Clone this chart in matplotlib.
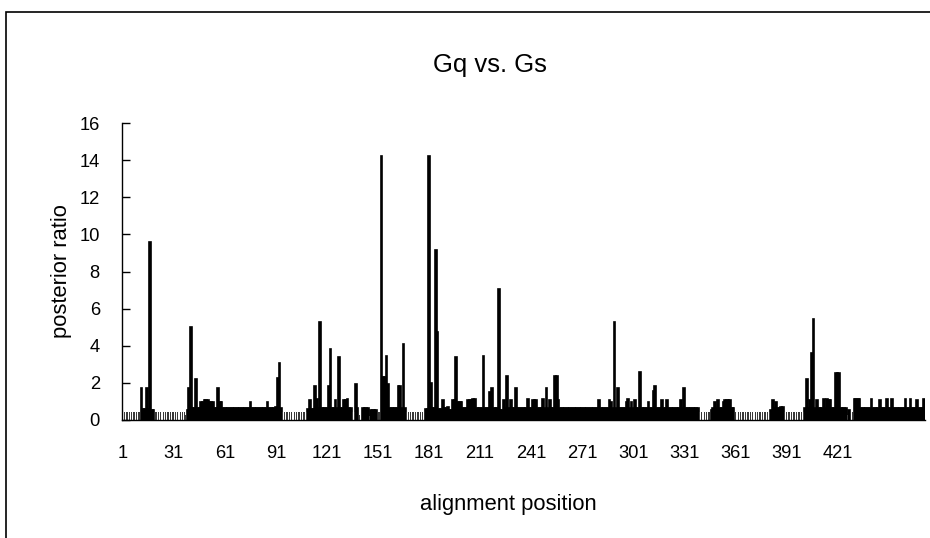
import numpy as np
import matplotlib.pyplot as plt
from matplotlib.patches import Rectangle
from matplotlib import font_manager

run_values = [0.45, 1.74, 0.6, 1.74, 0.6, 9.6, 0.54, 0.45, 0.27, 0.54,
              1.74, 5.0, 0.63, 2.19, 0.63, 0.95, 1.06, 0.95, 0.63, 1.74,
              0.95, 0.63, 0.95, 0.63, 0.95, 0.63, 0.72, 2.24, 3.05, 0.63,
              0.45, 0.6, 1.06, 0.6, 1.83, 1.15, 0.63, 5.27, 0.63, 1.83,
              3.8, 0.63, 1.06, 0.63, 3.4, 0.63, 1.06, 1.15, 0.63, 0.45,
              1.93, 0.63, 0.27, 0.63, 0.2, 0.54, 0.45, 14.2, 2.33, 3.46,
              1.93, 0.63, 1.83, 0.63, 4.07, 0.63, 0.45, 0.6, 14.2, 2.0,
              0.63, 9.14, 4.75, 0.6, 1.06, 0.63, 0.72, 0.54, 1.06, 3.4,
              0.98, 0.63, 1.06, 1.15, 0.63, 3.46, 0.63, 1.5, 1.74, 0.63,
              7.06, 0.54, 1.06, 0.63, 2.37, 0.63, 1.06, 0.63, 1.74, 0.63,
              1.15, 0.63, 1.06, 0.63, 1.15, 0.63, 1.74, 0.63, 1.06, 0.63,
              2.37, 1.06, 0.63, 1.06, 0.63, 1.06, 0.95, 0.63, 5.27, 0.63,
              1.74, 0.63, 0.95, 1.15, 0.63, 0.95, 0.63, 1.06, 0.63, 2.6,
              0.63, 0.95, 0.63, 1.58, 1.83, 0.63, 1.06, 0.63, 1.06, 0.63,
              1.06, 0.63, 1.74, 0.63, 0.45, 0.54, 0.63, 0.95, 0.63, 1.06,
              0.63, 0.95, 1.06, 0.63, 0.45, 0.54, 1.06, 0.63, 0.95, 0.63,
              0.72, 0.45, 0.63, 2.19, 0.63, 1.06, 3.62, 5.45, 0.63, 1.06,
              0.63, 1.15, 0.63, 1.15, 1.06, 0.63, 2.51, 0.63, 0.27, 0.54,
              0.45, 1.15, 0.63, 1.15, 0.63, 1.06, 0.63, 1.15, 0.63, 1.15,
              0.63, 1.15, 0.63, 1.15, 0.63, 1.06, 0.63, 1.15]
run_counts = [11, 1, 2, 1, 1, 1, 2, 18, 1, 1,
              1, 1, 2, 1, 2, 2, 3, 3, 2, 1,
              2, 16, 1, 9, 1, 4, 1, 1, 1, 1,
              15, 1, 1, 2, 1, 1, 1, 1, 4, 1,
              1, 2, 1, 1, 1, 2, 2, 1, 2, 2,
              1, 1, 2, 4, 1, 4, 2, 1, 2, 1,
              1, 5, 2, 1, 1, 1, 11, 2, 1, 1,
              2, 1, 1, 2, 1, 2, 1, 2, 2, 1,
              3, 3, 3, 2, 4, 1, 3, 1, 1, 3,
              1, 2, 1, 1, 1, 1, 1, 2, 1, 6,
              1, 2, 3, 3, 1, 1, 1, 1, 1, 2,
              2, 1, 23, 1, 5, 1, 1, 1, 1, 1,
              1, 4, 1, 1, 1, 1, 1, 1, 2, 1,
              4, 1, 2, 1, 1, 3, 1, 2, 1, 7,
              1, 1, 1, 8, 7, 1, 1, 1, 1, 1,
              2, 1, 4, 2, 21, 1, 1, 1, 1, 2,
              2, 12, 1, 1, 1, 1, 1, 1, 1, 1,
              3, 1, 1, 1, 2, 2, 3, 4, 1, 1,
              2, 4, 6, 1, 4, 1, 3, 1, 2, 1,
              7, 1, 2, 1, 3, 1, 3, 1]

ratio = np.repeat(run_values, run_counts)
positions = np.arange(1, len(ratio) + 1)
tick_positions = list(range(1, 431, 30))
y_ticks = list(range(0, 17, 2))

installed = {f.name for f in font_manager.fontManager.ttflist}
narrow = 'Liberation Sans Narrow' in installed
plt.rcParams['font.family'] = (['Liberation Sans Narrow'] if narrow else []) + ['Liberation Sans', 'DejaVu Sans']
# sizes tuned for the condensed face; the plain face needs a bit less
k = 1.0 if narrow else 0.88

fig = plt.figure(figsize=(9.3, 5.38), dpi=100)
ax = fig.add_axes([122 / 930, 118 / 538, 803 / 930, 297 / 538])

low = ratio < 0.5
ax.bar(positions[~low], ratio[~low], width=1.0, color='black',
       edgecolor='black', linewidth=1.2)
ax.bar(positions[low], ratio[low], width=0.55, color='#3a3a3a', linewidth=0)

ax.set_xlim(0.5, len(ratio) + 0.5)
ax.set_ylim(0, 16)
ax.set_yticks(y_ticks)
ax.set_xticks(tick_positions)
ax.set_xticklabels([str(t) for t in tick_positions])

for side in ['top', 'right']:
    ax.spines[side].set_visible(False)
for side in ['left', 'bottom']:
    ax.spines[side].set_color('black')
    ax.spines[side].set_linewidth(1.0)

ax.tick_params(axis='y', direction='in', length=6, width=1, labelsize=15 * k, pad=16)
ax.tick_params(axis='x', length=0, labelsize=15 * k, pad=18)

ax.set_ylabel('posterior ratio', fontsize=18 * k)
ax.yaxis.set_label_coords(-0.062, 0.5)
ax.set_xlabel('alignment position', fontsize=18 * k)
ax.xaxis.set_label_coords((508 - 122) / 803, -0.25)

fig.text(490 / 930, 1 - 65 / 538, 'Gq vs. Gs', fontsize=21 * k, ha='center', va='center')

# chart area border
fig.patches.append(Rectangle((5.5 / 930, -0.1), 1.2, 1.1 - 12 / 538,
                             transform=fig.transFigure, fill=False,
                             edgecolor='black', linewidth=1.2))

fig.savefig('out.png', dpi=100)
